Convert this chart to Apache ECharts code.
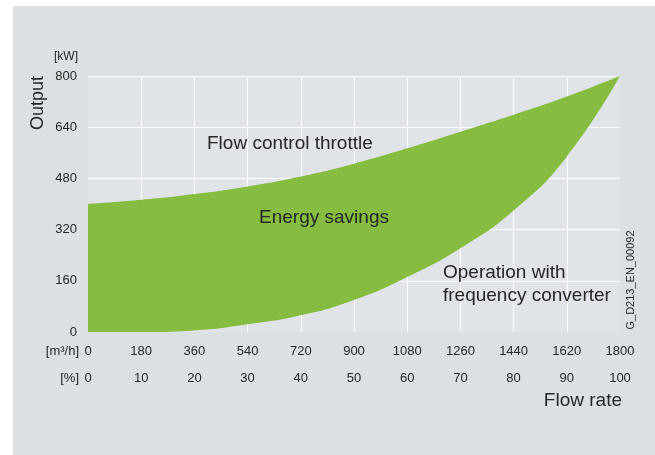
<!DOCTYPE html>
<html>
<head>
<meta charset="utf-8">
<script src="https://cdn.jsdelivr.net/npm/echarts@6/dist/echarts.min.js"></script>
<style>
  html, body { margin: 0; padding: 0; background: #ffffff; }
  #chart { width: 655px; height: 455px; }
</style>
</head>
<body>
<div id="chart"></div>
<script>
// Flow rate categories [m³/h]
const flowRate = [0, 180, 360, 540, 720, 900, 1080, 1260, 1440, 1620, 1800];
// Output with flow control throttle [kW]
const throttleOutput = [400, 413, 431, 455, 486, 526, 574, 626, 679, 736, 800];
// Output with frequency converter [kW]
const converterOutput = [0, 0, 5, 24, 52, 100, 172, 262, 380, 548, 800];
// Percent axis
const percentMin = 0, percentMax = 100, percentStep = 10;
const outputTicks = [0, 160, 320, 480, 640, 800];

const FONT = '"Liberation Sans", Arial, Helvetica, sans-serif';
const TXT = '#262626';
const GREEN = '#86bd40';

const bandData = throttleOutput.map((v, i) => v - converterOutput[i]);

function label(x, y, text, size, align, extra) {
  return Object.assign({
    type: 'text', x: x, y: y, z: 100,
    style: { text: text, font: size + 'px ' + FONT, fill: TXT, align: align, verticalAlign: 'middle' }
  }, extra || {});
}

const chart = echarts.init(document.getElementById('chart'), null, { renderer: 'canvas' });
chart.setOption({
  backgroundColor: '#ffffff',
  animation: false,
  graphic: [
    { type: 'rect', z: -100, shape: { x: 13, y: 6, width: 642, height: 449 }, style: { fill: '#dbe0e4' } },
    label(38, 103, 'Output', 18, 'center', { rotation: Math.PI / 2 }),
    label(78, 57, '[kW]', 12, 'right'),
    label(79, 351, '[m³/h]', 13, 'right'),
    label(79, 378, '[%]', 13, 'right'),
    label(622, 401, 'Flow rate', 19, 'right'),
    label(207, 144, 'Flow control throttle', 19, 'left'),
    label(324, 218, 'Energy savings', 19, 'center'),
    label(443, 273, 'Operation with', 19, 'left'),
    label(443, 296, 'frequency converter', 19, 'left'),
    label(631, 280, 'G_D213_EN_00092', 11, 'center', { rotation: Math.PI / 2 })
  ],
  grid: {
    left: 88, right: 35, top: 76, bottom: 123,
    show: true, backgroundColor: '#e0e4e8', borderWidth: 0
  },
  xAxis: [
    {
      type: 'category', data: flowRate.map(String), boundaryGap: false,
      position: 'bottom',
      axisLine: { show: false }, axisTick: { show: false },
      axisLabel: { margin: 13, fontSize: 13, fontFamily: FONT, color: TXT, interval: 0 },
      splitLine: { show: true, interval: 0, showMinLine: false, showMaxLine: false, lineStyle: { color: '#ffffff', width: 1 } }
    },
    {
      type: 'value', min: percentMin, max: percentMax, interval: percentStep,
      position: 'bottom', offset: 27,
      axisLine: { show: false }, axisTick: { show: false },
      axisLabel: { margin: 13, fontSize: 13, fontFamily: FONT, color: TXT, showMinLabel: true, showMaxLabel: true },
      splitLine: { show: false }
    }
  ],
  yAxis: {
    type: 'value', min: outputTicks[0], max: outputTicks[outputTicks.length - 1], interval: outputTicks[1] - outputTicks[0],
    axisLine: { show: false }, axisTick: { show: false },
    axisLabel: { margin: 11, fontSize: 13, fontFamily: FONT, color: TXT },
    splitLine: { show: true, showMinLine: false, showMaxLine: true, lineStyle: { color: '#ffffff', width: 1 } }
  },
  series: [
    {
      type: 'line', xAxisIndex: 0, stack: 'band', data: converterOutput, smooth: 0.5,
      symbol: 'none', lineStyle: { width: 0, opacity: 0 }, silent: true
    },
    {
      type: 'line', xAxisIndex: 0, stack: 'band', data: bandData, smooth: 0.5,
      symbol: 'none', lineStyle: { width: 0, opacity: 0 },
      areaStyle: { color: GREEN, opacity: 1 }, silent: true
    }
  ]
});
</script>
</body>
</html>
